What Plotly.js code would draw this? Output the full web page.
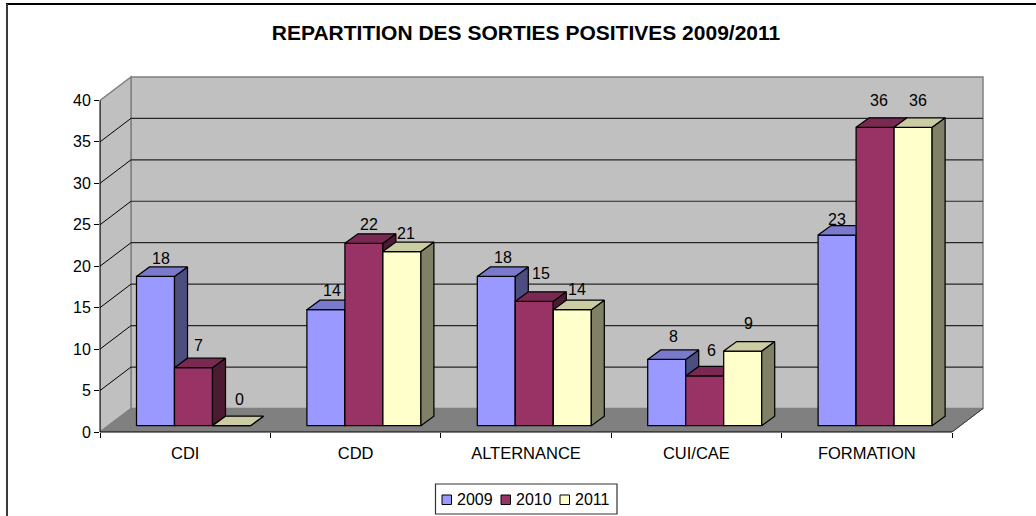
<!DOCTYPE html>
<html><head><meta charset="utf-8">
<script src="https://cdn.plot.ly/plotly-3.0.1.min.js"></script>
<style>html,body{margin:0;padding:0;background:#fff}#c{width:1036px;height:516px}</style></head>
<body><div id="c"></div>
<script>
const titleText = 'REPARTITION DES SORTIES POSITIVES 2009/2011';
const categories = ['CDI','CDD','ALTERNANCE','CUI/CAE','FORMATION'];
const seriesNames = ['2009','2010','2011'];
const values2009 = [18,14,18,8,23];
const values2010 = [7,22,15,6,36];
const values2011 = [0,21,14,9,36];
const yTicks = [0,5,10,15,20,25,30,35,40];
const frontColors = ['#9999FF','#993366','#FFFFCC'];
const topColors = ['#7A7ACC','#7A2952','#CCCCA3'];
const sideColors = ['#4D4D80','#4D1A33','#808066'];
// label nudges in px (right, up) per series
const labelRight = [[5,6,7,7,0],[5,5.5,7,7,4],[8,4.5,5,6,5]];
const labelUp = [[18,19,19,23,16],[22,19,28,25,27],[26,18,20,28,27]];

const W=1036,H=516,L=100,R=50,T=70,B=84;
const pxX=170.4,pxY=8.29;
const xMax=(W-L-R)/pxX, yMax=(H-T-B)/pxY;
const wallDx=31/pxX, wallDy=23.5/pxY, barDx=13/pxX, barDy=9.5/pxY;
const baseDx=8.3/pxX, baseDy=6.3/pxY, barW=38/pxX;
const all=[values2009,values2010,values2011];
const font='"Liberation Sans", Arial, sans-serif';
const pX=v=>v/xMax, pY=v=>v/yMax;
const shapes=[], annotations=[], traces=[];
const gray='#808080', gridC='#262626';
const poly=(pts,fill,lineC,w)=>({type:'path',xref:'x',yref:'y',layer:'below',
  path:'M'+pts.map(p=>p[0]+','+p[1]).join('L')+'Z',fillcolor:fill,line:{color:lineC,width:w}});
const seg=(x0,y0,x1,y1,c,w)=>({type:'line',xref:'x',yref:'y',layer:'below',x0,y0,x1,y1,line:{color:c,width:w}});
const n=categories.length;
shapes.push(poly([[wallDx,wallDy],[n+wallDx,wallDy],[n+wallDx,40+wallDy],[wallDx,40+wallDy]],'#C0C0C0',gray,1.5));
shapes.push(poly([[0,0],[wallDx,wallDy],[wallDx,40+wallDy],[0,40]],'#C0C0C0',gray,1.5));
shapes.push(poly([[0,0],[n,0],[n+wallDx,wallDy],[wallDx,wallDy]],'#808080',gray,1));
yTicks.slice(1,-1).forEach(v=>{
  shapes.push(seg(0,v,wallDx,v+wallDy,'#000',1));
  shapes.push(seg(wallDx,v+wallDy,n+wallDx,v+wallDy,gridC,1.2));
});
shapes.push(seg(n,0,n+wallDx,wallDy,'#333',1));
const pline=(x0,y0,x1,y1)=>({type:'line',xref:'paper',yref:'paper',x0,y0,x1,y1,line:{color:'#000',width:1}});
shapes.push(pline(0,0,0,pY(40)));
shapes.push(pline(0,0,pX(n),0));

all.forEach((vals,s)=>{
  const ax=s?String(s+1):'';
  const xa='x'+ax, ya='y'+ax;
  const xs=vals.map((_,i)=>i+0.5+baseDx+(s-1)*barW);
  traces.push({type:'bar',name:seriesNames[s],x:xs,y:vals,base:vals.map(()=>baseDy),width:barW,
    marker:{color:frontColors[s],line:{color:'#000',width:1.25}},xaxis:xa,yaxis:ya,showlegend:false,hoverinfo:'y'});
  const sx=[],sy=[],tx=[],ty=[];
  vals.forEach((v,i)=>{
    const l=xs[i]-barW/2,r=xs[i]+barW/2,t=baseDy+v;
    sx.push(r,r+barDx,r+barDx,r,r,null); sy.push(baseDy,baseDy+barDy,t+barDy,t,baseDy,null);
    tx.push(l,l+barDx,r+barDx,r,l,null); ty.push(t,t+barDy,t+barDy,t,t,null);
  });
  [[sx,sy,sideColors[s]],[tx,ty,topColors[s]]].forEach(f=>traces.push({type:'scatter',mode:'lines',x:f[0],y:f[1],
    fill:'toself',fillcolor:f[2],line:{color:'#000',width:1.25},xaxis:xa,yaxis:ya,showlegend:false,hoverinfo:'skip'}));
  vals.forEach((v,i)=>annotations.push({xref:'x',yref:'y',x:xs[i],y:baseDy+v,text:String(v),showarrow:false,
    xanchor:'center',yanchor:'middle',xshift:labelRight[s][i],yshift:labelUp[s][i],font:{family:font,size:16,color:'#000'}}));
});

const toPaperX=p=>(p-L)/(W-L-R), toPaperY=p=>(H-B-p)/(H-T-B);
const boxS=(x0,y0,x1,y1,fill,c,w)=>({type:'rect',xref:'paper',yref:'paper',layer:'above',
  x0:toPaperX(x0),x1:toPaperX(x1),y0:toPaperY(y0),y1:toPaperY(y1),fillcolor:fill,line:{color:c,width:w}});
const lineS=(x0,y0,x1,y1,c,w)=>({type:'line',xref:'paper',yref:'paper',layer:'above',
  x0:toPaperX(x0),x1:toPaperX(x1),y0:toPaperY(y0),y1:toPaperY(y1),line:{color:c,width:w}});
shapes.push(boxS(435.5,484,617,514,'#fff','#333',1.2));
seriesNames.forEach((nm,s)=>{
  const sx=442+s*59;
  shapes.push(boxS(sx,495,sx+9.5,504.5,frontColors[s],'#000',1));
  annotations.push({xref:'paper',yref:'paper',x:toPaperX(sx+13),y:toPaperY(499.5),text:nm,showarrow:false,
    xanchor:'left',yanchor:'middle',font:{family:font,size:16,color:'#000'}});
});
// chart frame: top and left edges only
shapes.push(lineS(6,4,1036,4,'#000',2));
shapes.push(lineS(7,4,7,516,'#3a3a3a',2));

const hidden={overlaying:'x',range:[0,xMax],showgrid:false,zeroline:false,showticklabels:false,ticks:'',fixedrange:true};
const hiddenY={overlaying:'y',range:[0,yMax],showgrid:false,zeroline:false,showticklabels:false,ticks:'',fixedrange:true};
const layout={
  width:W,height:H,paper_bgcolor:'#fff',plot_bgcolor:'rgba(0,0,0,0)',
  margin:{l:L,r:R,t:T,b:B,pad:0},showlegend:false,barmode:'overlay',
  title:{text:titleText,x:526/W,xanchor:'center',y:1-33/H,yanchor:'middle',font:{family:font,size:21,weight:700,color:'#000'}},
  font:{family:font,size:16,color:'#000'},
  xaxis:{range:[0,xMax],tickmode:'array',tickvals:categories.map((_,i)=>i+0.5),ticktext:categories,ticks:'outside',
    ticklen:5,tickcolor:'rgba(0,0,0,0)',ticklabelstandoff:1,showgrid:false,zeroline:false,showline:false,fixedrange:true,tickfont:{family:font,size:16.5,color:'#000'}},
  yaxis:{range:[0,yMax],tickmode:'array',tickvals:yTicks,ticks:'outside',ticklen:5,tickwidth:1,tickcolor:'#000',
    showgrid:false,zeroline:false,showline:false,fixedrange:true,tickfont:{family:font,size:16,color:'#000'}},
  xaxis2:Object.assign({},hidden,{tickmode:'array',tickvals:[0,1,2,3,4,5],ticks:'outside',ticklen:5,tickwidth:1,tickcolor:'#000'}),
  yaxis2:hiddenY,xaxis3:hidden,yaxis3:hiddenY,
  shapes,annotations
};
Plotly.newPlot('c',traces,layout,{displayModeBar:false,staticPlot:true});
</script></body></html>
